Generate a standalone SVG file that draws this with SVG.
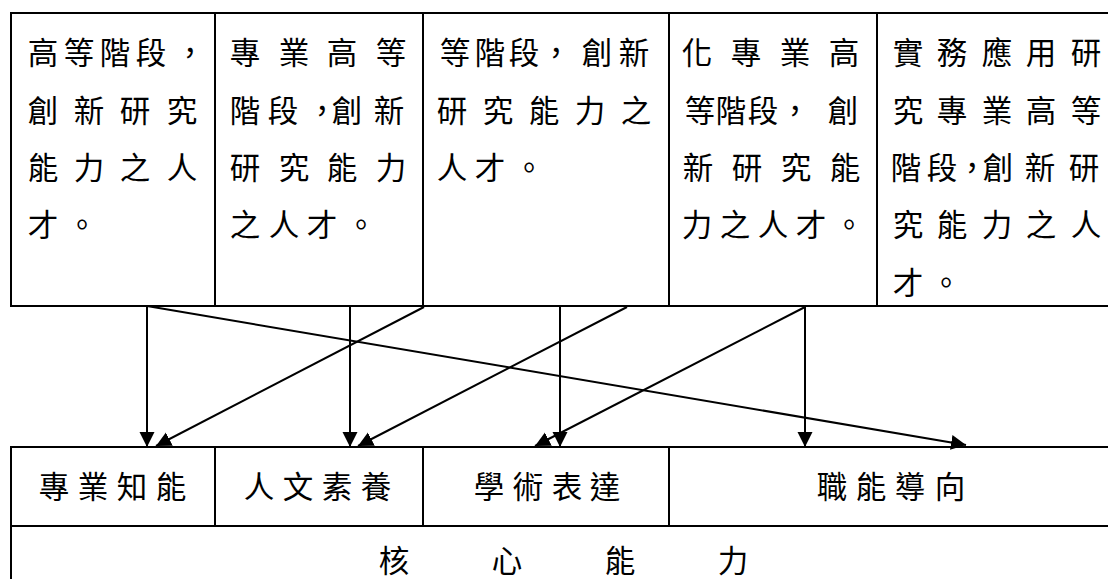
<svg xmlns="http://www.w3.org/2000/svg" width="1108" height="579" viewBox="0 0 1108 579">
<style>
.cell{fill:#fff;stroke:#000;stroke-width:2}
.t{font-family:"Noto Sans CJK TC","Noto Sans CJK JP",sans-serif;font-size:30.5px;fill:#000;text-anchor:middle}
.c{stroke:#000;stroke-width:2;fill:none;marker-end:url(#ah)}
</style>
<defs>
<marker id="ah" markerUnits="userSpaceOnUse" markerWidth="16" markerHeight="16" refX="15" refY="7.5" orient="auto">
<path d="M0,0 L15,7.5 L0,15 z" fill="#000"/>
</marker>
</defs>
<rect width="1108" height="579" fill="#fff"/>

<g id="t1">
<rect class="cell" x="11" y="13" width="204" height="293"/>
<text class="t" x="43 79 115 151 190" y="64">高等階段，</text>
<text class="t" x="43 89 135 182" y="122">創新研究</text>
<text class="t" x="43 89 135 182" y="179">能力之人</text>
<text class="t" x="43 82" y="236">才。</text>
</g>
<g id="t2">
<rect class="cell" x="215" y="13" width="208" height="293"/>
<text class="t" x="245 294 342 391" y="64">專業高等</text>
<text class="t" x="245 283 322 347 389" y="122">階段，創新</text>
<text class="t" x="245 294 342 391" y="179">研究能力</text>
<text class="t" x="245 284 322 361" y="236">之人才。</text>
</g>
<g id="t3">
<rect class="cell" x="423" y="13" width="246" height="293"/>
<text class="t" x="455 490 524 556 597 634" y="64">等階段，創新</text>
<text class="t" x="452 498 544 590 636" y="122">研究能力之</text>
<text class="t" x="452 490 529" y="179">人才。</text>
</g>
<g id="t4">
<rect class="cell" x="669" y="13" width="208" height="293"/>
<text class="t" x="697 746 795 844" y="64">化專業高</text>
<text class="t" x="700 731 763 795 843" y="122">等階段，創</text>
<text class="t" x="698 747 796 845" y="179">新研究能</text>
<text class="t" x="697 735 773 811 849" y="236">力之人才。</text>
</g>
<g id="t5">
<rect class="cell" x="877" y="13" width="250" height="293"/>
<text class="t" x="908 952 997 1041 1086" y="64">實務應用研</text>
<text class="t" x="908 952 997 1041 1086" y="122">究專業高等</text>
<text class="t" x="906 942 972 998 1040 1084" y="179">階段，創新研</text>
<text class="t" x="908 952 997 1041 1086" y="236">究能力之人</text>
<text class="t" x="908 946" y="294">才。</text>
</g>

<g id="b1">
<rect class="cell" x="11" y="447" width="204" height="79"/>
<text class="t" x="54 93 132 171" y="498">專業知能</text>
</g>
<g id="b2">
<rect class="cell" x="215" y="447" width="208" height="79"/>
<text class="t" x="259 298 337 376" y="498">人文素養</text>
</g>
<g id="b3">
<rect class="cell" x="423" y="447" width="246" height="79"/>
<text class="t" x="489 528 567 605" y="498">學術表達</text>
</g>
<g id="b4">
<rect class="cell" x="669" y="447" width="458" height="79"/>
<text class="t" x="832 871 910 950" y="498">職能導向</text>
</g>
<g id="core">
<rect class="cell" x="11" y="526" width="1116" height="80"/>
<text class="t" x="394 507 620 733" y="572">核心能力</text>
</g>

<g id="connectors">
<line class="c" x1="147" y1="306" x2="147" y2="447"/>
<line class="c" x1="147" y1="306" x2="966" y2="445"/>
<line class="c" x1="424" y1="307" x2="156" y2="446"/>
<line class="c" x1="350" y1="306" x2="350" y2="447"/>
<line class="c" x1="627" y1="307" x2="358" y2="446"/>
<line class="c" x1="560" y1="306" x2="560" y2="447"/>
<line class="c" x1="805" y1="306" x2="805" y2="447"/>
<line class="c" x1="805" y1="307" x2="535" y2="446"/>
</g>
</svg>
